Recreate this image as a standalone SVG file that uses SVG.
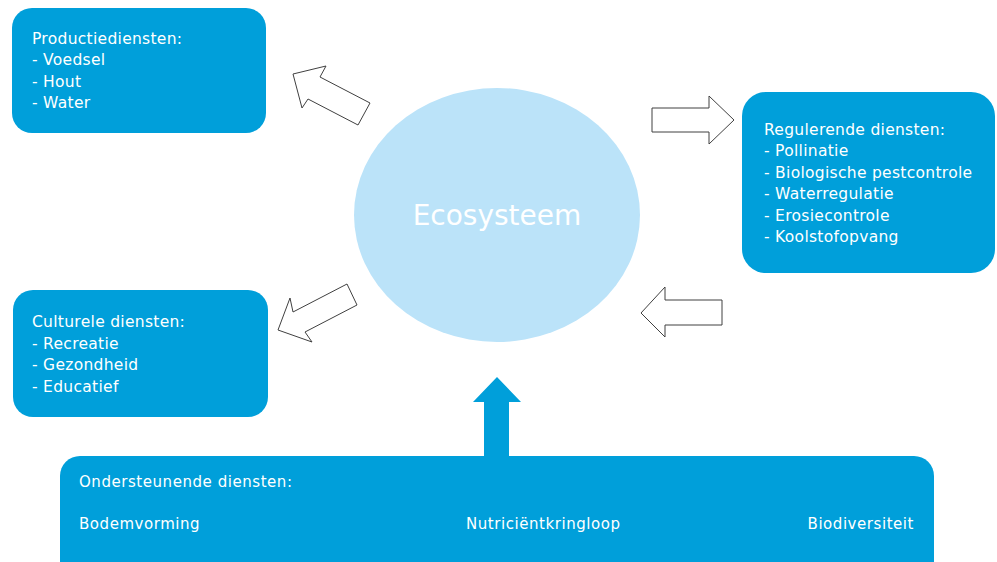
<svg xmlns="http://www.w3.org/2000/svg" width="997" height="562" viewBox="0 0 997 562">
<style>
.box{fill:#009fda;}
.t{font-family:"DejaVu Sans",Verdana,sans-serif;font-size:15.5px;letter-spacing:0.3px;fill:#ffffff;}
.tb{font-family:"DejaVu Sans",Verdana,sans-serif;font-size:15px;letter-spacing:0.55px;fill:#ffffff;}
.oa{fill:#ffffff;stroke:#404040;stroke-width:1;stroke-linejoin:miter;}
</style>
<rect width="997" height="562" fill="#ffffff"/>
<g id="ecosysteem">
<ellipse cx="497" cy="215" rx="143" ry="127" fill="#bbe3f9"/>
<text x="497" y="225" text-anchor="middle" font-family="DejaVu Sans,Verdana,sans-serif" font-size="28" fill="#ffffff">Ecosysteem</text>
</g>
<g id="productiediensten">
<rect class="box" x="12" y="8" width="254" height="125" rx="20"/>
<text class="t" x="32" y="43.5">Productiediensten:</text>
<text class="t" x="32" y="65">- Voedsel</text>
<text class="t" x="32" y="86.5">- Hout</text>
<text class="t" x="32" y="108">- Water</text>
</g>
<g id="regulerende">
<rect class="box" x="742" y="92" width="253" height="181" rx="24"/>
<text class="t" x="764" y="134.5">Regulerende diensten:</text>
<text class="t" x="764" y="156">- Pollinatie</text>
<text class="t" x="764" y="177.5">- Biologische pestcontrole</text>
<text class="t" x="764" y="199">- Waterregulatie</text>
<text class="t" x="764" y="220.5">- Erosiecontrole</text>
<text class="t" x="764" y="242">- Koolstofopvang</text>
</g>
<g id="culturele">
<rect class="box" x="13" y="290" width="255" height="127" rx="20"/>
<text class="t" x="32" y="327">Culturele diensten:</text>
<text class="t" x="32" y="348.5">- Recreatie</text>
<text class="t" x="32" y="370">- Gezondheid</text>
<text class="t" x="32" y="391.5">- Educatief</text>
</g>
<g id="ondersteunende">
<rect class="box" x="60" y="456" width="874" height="130" rx="20"/>
<text class="tb" x="79" y="487">Ondersteunende diensten:</text>
<text class="tb" x="79" y="529">Bodemvorming</text>
<text class="tb" x="466" y="529">Nutriciëntkringloop</text>
<text class="tb" x="914" y="529" text-anchor="end">Biodiversiteit</text>
</g>
<g id="connectors">
<polygon class="oa" points="293,74 326,66 320,77 370,103 358,125 308,99 302,108"/>
<polygon class="oa" points="652,108 709,108 709,96 734,120 709,144 709,132 652,132"/>
<polygon class="oa" points="641,313 665,287 665,300 722,300 722,325 665,325 665,337"/>
<polygon class="oa" points="278,330 290,298 293,312 347,284 357,305 305,332 312,342"/>
<polygon fill="#009fda" points="497,377 521,402 509,402 509,458 484,458 484,402 473,402"/>
</g>
</svg>
